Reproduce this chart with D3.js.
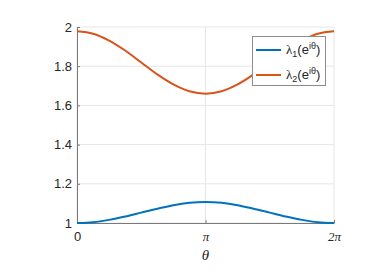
<!DOCTYPE html>
<html><head><meta charset="utf-8">
<script src="https://cdn.jsdelivr.net/npm/d3@7"></script>
<style>body{margin:0;background:#fff}svg{display:block}</style>
</head><body>
<script>
// θ sampled at k·π/8, k = 0..16
const thetaSteps = [0,1,2,3,4,5,6,7,8,9,10,11,12,13,14,15,16];
const lambda1 = [1.000,1.004,1.016,1.033,1.053,1.073,1.091,1.103,1.107,1.103,1.091,1.073,1.053,1.033,1.016,1.004,1.000];
const lambda2 = [1.978,1.966,1.931,1.880,1.819,1.758,1.707,1.672,1.660,1.672,1.707,1.758,1.819,1.880,1.931,1.966,1.978];
const yTicks = [1,1.2,1.4,1.6,1.8,2];
const yTickLabels = ["1","1.2","1.4","1.6","1.8","2"];
const xTicks = [0,Math.PI,2*Math.PI];
const xTickLabels = ["0","π","2π"];
const seriesNames = ["1","2"];
const colors = ["#0072BD","#D95319"];

const W=382,H=272;
const m={left:77,right:334,top:27,bottom:223};
const svg=d3.select("body").append("svg").attr("width",W).attr("height",H);
const x=d3.scaleLinear().domain([0,2*Math.PI]).range([m.left,m.right]);
const y=d3.scaleLinear().domain([1,2]).range([m.bottom,m.top]);

// grid
const g=svg.append("g");
g.selectAll(".gx").data(xTicks).enter().append("line")
 .attr("x1",d=>x(d)).attr("x2",d=>x(d)).attr("y1",m.top).attr("y2",m.bottom)
 .attr("stroke","#e6e6e6").attr("stroke-width",1);
g.selectAll(".gy").data(yTicks).enter().append("line")
 .attr("x1",m.left).attr("x2",m.right).attr("y1",d=>y(d)).attr("y2",d=>y(d))
 .attr("stroke","#e6e6e6").attr("stroke-width",1);

// axes
const fontFam="Helvetica, Arial, 'Liberation Sans', sans-serif";
const yAxis=d3.axisLeft(y).tickValues(yTicks).tickFormat((d,i)=>yTickLabels[i]).tickSizeInner(-3).tickSizeOuter(0).tickPadding(5);
const ya=svg.append("g").attr("transform",`translate(${m.left},0)`).call(yAxis);
ya.select(".domain").attr("stroke","#7a7a7a");
ya.selectAll(".tick line").attr("stroke","#7a7a7a");
ya.selectAll("text").attr("font-family",fontFam).attr("font-size",13).attr("fill","#262626");

const xAxis=d3.axisBottom(x).tickValues(xTicks).tickFormat((d,i)=>xTickLabels[i]).tickSizeInner(-3).tickSizeOuter(0).tickPadding(9);
const xa=svg.append("g").attr("transform",`translate(0,${m.bottom})`).call(xAxis);
xa.select(".domain").attr("stroke","#7a7a7a");
xa.selectAll(".tick line").attr("stroke","#7a7a7a");
xa.selectAll("text").attr("font-size",13).attr("fill","#262626")
 .attr("font-family",(d,i)=>i===0?fontFam:"'Liberation Serif','DejaVu Serif',serif")
 .attr("font-style",(d,i)=>i===0?"normal":"italic");

svg.append("text").attr("x",(m.left+m.right)/2).attr("y",260).attr("text-anchor","middle")
 .attr("font-family","'Liberation Serif','DejaVu Serif',serif").attr("font-style","italic")
 .attr("font-size",15).attr("fill","#262626").text("θ");

// lines
const line=d3.line().x((d,i)=>x(thetaSteps[i]*Math.PI/8)).y(d=>y(d)).curve(d3.curveCatmullRom);
[lambda1,lambda2].forEach((s,k)=>{
  svg.append("path").datum(s).attr("d",line).attr("fill","none")
   .attr("stroke",colors[k]).attr("stroke-width",2);
});

// legend
const lg=svg.append("g");
lg.append("rect").attr("x",252.5).attr("y",36.5).attr("width",73).attr("height",49)
 .attr("fill","#fff").attr("stroke","#8c8c8c").attr("stroke-width",1);
seriesNames.forEach((n,k)=>{
  const yy=50+k*25;
  lg.append("line").attr("x1",256).attr("x2",281).attr("y1",yy).attr("y2",yy)
   .attr("stroke",colors[k]).attr("stroke-width",2);
  const t=lg.append("text").attr("x",286).attr("y",yy+4).attr("font-family",fontFam)
   .attr("font-size",13).attr("fill","#262626");
  t.append("tspan").attr("font-family","'Liberation Serif','DejaVu Serif',serif").text("λ");
  t.append("tspan").attr("font-size",9).attr("dy",3).text(n);
  t.append("tspan").attr("dy",-3).text("(e");
  t.append("tspan").attr("font-size",9).attr("dy",-5).text("iθ");
  t.append("tspan").attr("dy",5).text(")");
});
</script>
</body></html>
